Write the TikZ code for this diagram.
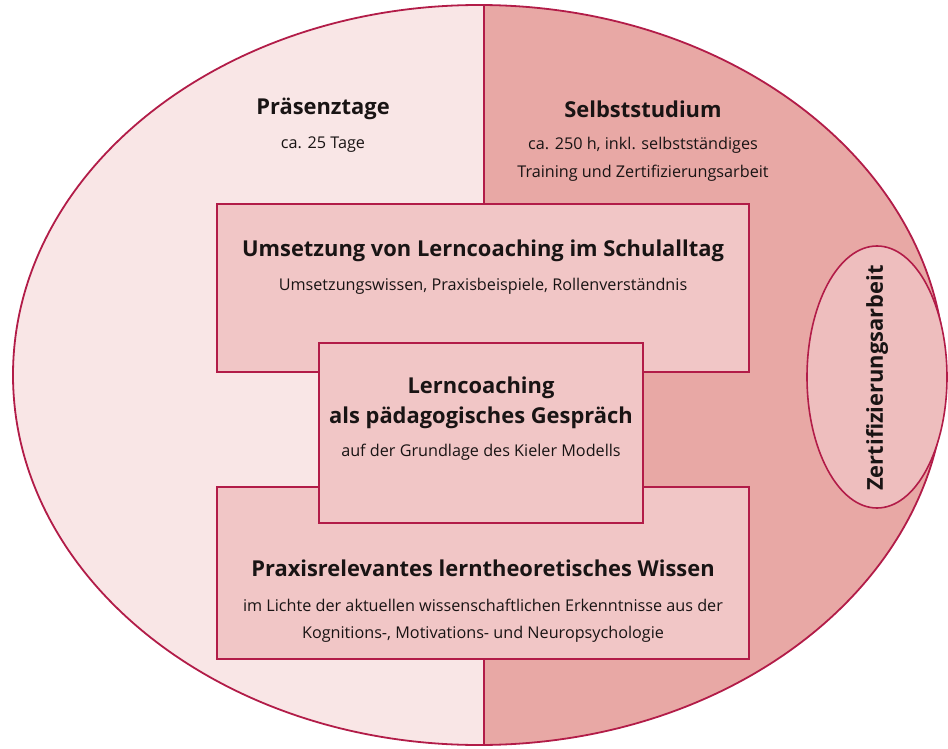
\documentclass[tikz,border=0pt]{standalone}
\usepackage{fontspec}
\setmainfont{Open Sans}
\usetikzlibrary{shapes.geometric}
\definecolor{linec}{RGB}{178,28,72}
\definecolor{leftf}{RGB}{249,230,230}
\definecolor{rightf}{RGB}{232,168,165}
\definecolor{boxf}{RGB}{241,198,198}
\definecolor{ellf}{RGB}{238,190,190}
\definecolor{txt}{RGB}{25,20,20}
\begin{document}
\begin{tikzpicture}[x=1pt,y=-1pt,
  boxst/.style={draw=linec,fill=boxf,line width=1.8pt,rectangle,inner sep=0pt},
  head/.style={font=\fontsize{21.9}{26}\selectfont\bfseries,text=txt,inner sep=0pt},
  sub/.style={font=\fontsize{16.2}{19}\selectfont,text=txt,inner sep=0pt}]
\useasboundingbox (0,0) rectangle (948,749);
% big ellipse halves
\begin{scope}
  \clip (479,375) ellipse [x radius=466pt, y radius=370pt];
  \fill[leftf] (0,0) rectangle (484,749);
  \fill[rightf] (484,0) rectangle (948,749);
\end{scope}
\coordinate (vt) at (484,5);
\coordinate (vb) at (484,745);
\draw[linec,line width=1.8pt] (vt) -- (vb);
\node[ellipse,draw=linec,line width=1.8pt,minimum width=932pt,minimum height=740pt,inner sep=0pt] (big) at (479,375) {};
% headers
\node[head] (pt) at (323,109) {Präsenztage};
\node[sub] (pts) at (323,145) {ca. 25 Tage};
\node[head] (ss) at (643,109) {Selbststudium};
\node[sub] (ss1) at (643,145) {ca. 250 h, inkl. selbstständiges};
\node[sub] (ss2) at (643,173) {Training und Zertifizierungsarbeit};
% boxes
\node[boxst,minimum width=532pt,minimum height=168pt] (top) at (483,288) {};
\node[boxst,minimum width=532pt,minimum height=172pt] (bot) at (483,573) {};
\node[boxst,minimum width=324pt,minimum height=180pt] (mid) at (481,433) {};
\node[head] (t1) at (483,251) {Umsetzung von Lerncoaching im Schulalltag};
\node[sub] (t2) at (483,286) {Umsetzungswissen, Praxisbeispiele, Rollenverständnis};
\node[head] (m1) at (481,388) {Lerncoaching};
\node[head] (m2) at (481,418) {als pädagogisches Gespräch};
\node[sub] (m3) at (481,452) {auf der Grundlage des Kieler Modells};
\node[head] (b1) at (483,568) {Praxisrelevantes lerntheoretisches Wissen};
\node[sub] (b2) at (483,605) {im Lichte der aktuellen wissenschaftlichen Erkenntnisse aus der};
\node[sub] (b3) at (483,634) {Kognitions-, Motivations- und Neuropsychologie};
% Zertifizierungsarbeit
\node[ellipse,draw=linec,fill=ellf,line width=1.6pt,minimum width=140pt,minimum height=262pt,inner sep=0pt] (z) at (877,377) {};
\node[head,rotate=90] (zt) at (877,378) {Zertifizierungsarbeit};
\end{tikzpicture}
\end{document}
